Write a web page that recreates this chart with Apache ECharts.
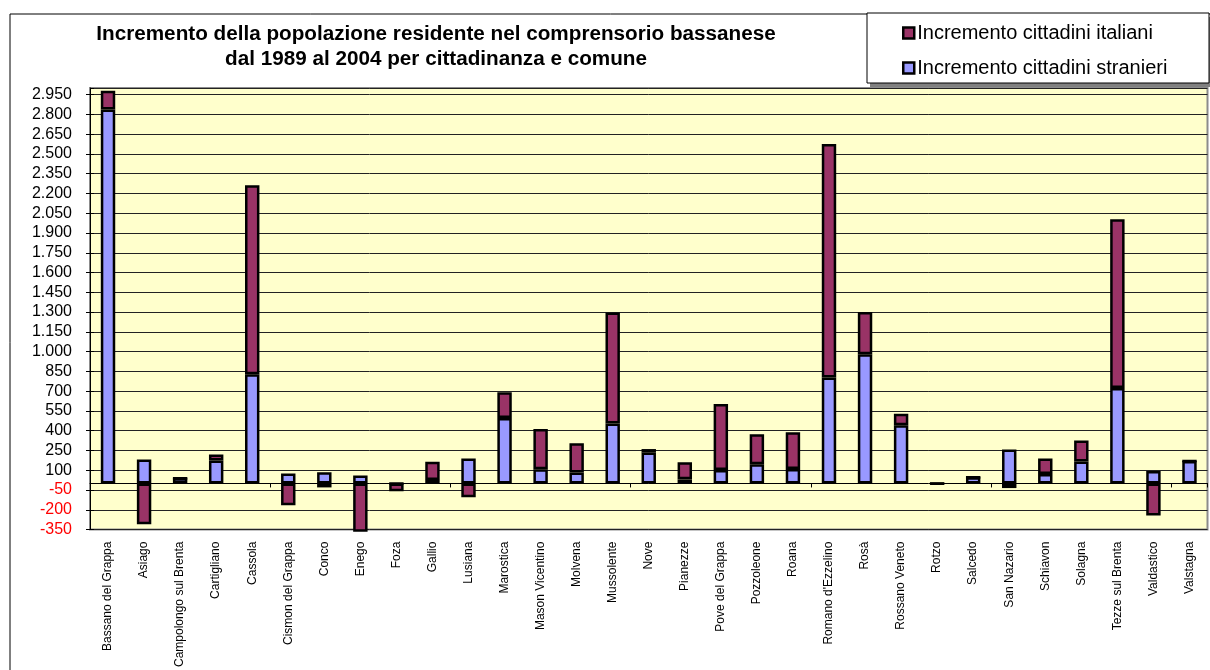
<!DOCTYPE html>
<html>
<head>
<meta charset="utf-8">
<script src="https://cdn.jsdelivr.net/npm/echarts@6/dist/echarts.min.js"></script>
<style>html,body{margin:0;padding:0;background:#fff;}#c{width:1210px;height:670px;}</style>
</head>
<body>
<div id="c"></div>
<script>
const categories = ["Bassano del Grappa","Asiago","Campolongo sul Brenta","Cartigliano","Cassola","Cismon del Grappa","Conco","Enego","Foza","Gallio","Lusiana","Marostica","Mason Vicentino","Molvena","Mussolente","Nove","Pianezze","Pove del Grappa","Pozzoleone","Roana","Romano d'Ezzelino","Rosà","Rossano Veneto","Rotzo","Salcedo","San Nazario","Schiavon","Solagna","Tezze sul Brenta","Valdastico","Valstagna"];
const stranieri = [2837, 181, 40, 175, 828, 75, 85, 61, 0, 27, 190, 496, 107, 84, 454, 234, 31, 102, 145, 110, 803, 981, 441, 0, 48, 258, 72, 167, 725, 94, 170];
const italiani = [143, -309, 0, 45, 1434, -166, -30, -367, -60, 138, -105, 196, 306, 221, 843, 27, 129, 500, 228, 278, 1773, 319, 88, -3, 0, -35, 118, 158, 1280, -244, 0];
const seriesNames = ["Incremento cittadini italiani", "Incremento cittadini stranieri"];
const yMin = -350, yMax = 3000, yStep = 150;

const FONT = "'Liberation Sans', Arial, sans-serif";
function fmt(v){
  v = Number(v);
  const s = Math.abs(v).toString().replace(/\B(?=(\d{3})+(?!\d))/g, '.');
  return (v < 0 ? '-' : '') + s;
}
const chart = echarts.init(document.getElementById('c'), null, {renderer: 'canvas'});
const barStyle = (c) => ({color: c, borderColor: '#000', borderWidth: 2.5});
chart.setOption({
  animation: false,
  backgroundColor: '#fff',
  title: {
    text: 'Incremento della popolazione residente nel comprensorio bassanese\ndal 1989 al 2004 per cittadinanza e comune',
    left: 431, top: 17, textAlign: 'center',
    textStyle: {fontFamily: FONT, fontSize: 20.7, fontWeight: 'bold', color: '#000', lineHeight: 25}
  },
  graphic: [
    {type: 'rect', shape: {x: 10, y: 14, width: 1300, height: 700}, style: {fill: 'none', stroke: '#000', lineWidth: 1}, z: -10},
    {type: 'rect', shape: {x: 870, y: 17, width: 345, height: 70}, style: {fill: '#808080'}, z: -5},
    {type: 'rect', shape: {x: 867, y: 13, width: 342, height: 70}, style: {fill: '#fff', stroke: '#000', lineWidth: 1}, z: -4}
  ],
  legend: {
    data: seriesNames,
    orient: 'vertical',
    left: 897, top: 17,
    itemWidth: 11, itemHeight: 11, itemGap: 13,
    icon: 'rect',
    itemStyle: {borderColor: '#000', borderWidth: 2.5},
    textStyle: {fontFamily: FONT, fontSize: 20, color: '#000', lineHeight: 22, padding: [0,0,0,-2]}
  },
  grid: {
    left: 90, right: 2.5, top: 88, bottom: 137,
    show: true, backgroundColor: '#FFFFCC', borderColor: '#8c8c8c', borderWidth: 2
  },
  xAxis: [
    {
      type: 'category', data: categories, position: 'bottom',
      axisLine: {onZero: true, lineStyle: {color: '#000', width: 1}},
      axisTick: {show: true, length: 4, lineStyle: {color: '#000'}},
      axisLabel: {show: false},
      splitLine: {show: false}
    },
    {
      type: 'category', data: categories, position: 'bottom',
      axisLine: {show: false, onZero: false},
      axisTick: {show: false},
      axisLabel: {show: true, rotate: 90, interval: 0, margin: 12, fontFamily: FONT, fontSize: 12, color: '#000'},
      splitLine: {show: false}
    }
  ],
  yAxis: [
    {
      type: 'value', min: yMin, max: yMax, interval: yStep, position: 'left',
      axisLine: {show: true, lineStyle: {color: '#000', width: 1}},
      axisTick: {show: true, length: 4, lineStyle: {color: '#000'}},
      axisLabel: {
        margin: 18, fontFamily: FONT, fontSize: 16, showMaxLabel: false,
        formatter: fmt,
        color: (v) => Number(v) < 0 ? '#FF0000' : '#000'
      },
      splitLine: {show: true, lineStyle: {color: '#222', width: 1}}
    },
    {
      type: 'value', min: yMin, max: yMax, interval: yStep, position: 'left',
      axisLine: {show: false},
      axisTick: {show: true, inside: true, length: 4, lineStyle: {color: '#000'}},
      axisLabel: {show: false},
      splitLine: {show: false}
    }
  ],
  series: [
    {
      name: seriesNames[1], type: 'bar', stack: 'tot', data: stranieri,
      xAxisIndex: 0, yAxisIndex: 0, barWidth: '40%', clip: false,
      itemStyle: barStyle('#9999FF')
    },
    {
      name: seriesNames[0], type: 'bar', stack: 'tot', data: italiani,
      xAxisIndex: 0, yAxisIndex: 0, barWidth: '40%', clip: false,
      itemStyle: barStyle('#993366')
    }
  ]
});
</script>
</body>
</html>
